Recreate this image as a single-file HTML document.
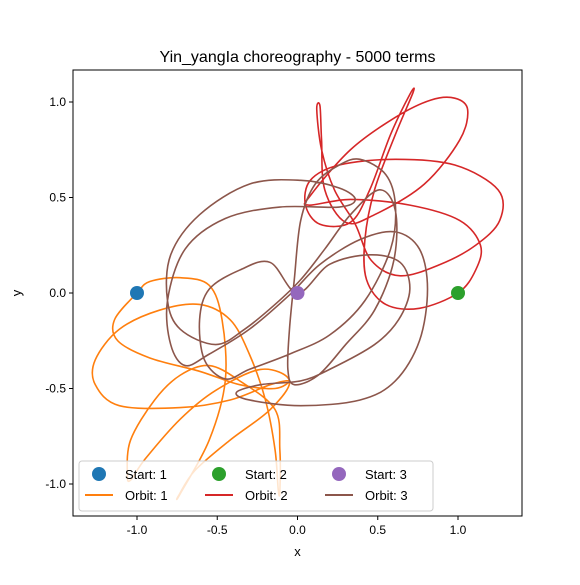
<!DOCTYPE html>
<html><head><meta charset="utf-8"><style>
body{margin:0;background:#fff}
svg text{font-family:"Liberation Sans","DejaVu Sans",sans-serif;fill:#000}
</style></head><body>
<svg id="c" width="580" height="580" xmlns="http://www.w3.org/2000/svg">
<rect width="580" height="580" fill="#fff"/>
<text x="297.5" y="62" font-size="16" text-anchor="middle">Yin_yangIa choreography - 5000 terms</text>
<g id="plot"></g>
<rect x="73" y="70" width="449" height="446" fill="none" stroke="#000" stroke-width="1"/>
<g id="ticks"></g>
<text x="297.5" y="556" font-size="13" text-anchor="middle">x</text>
<text x="21" y="293" font-size="13" text-anchor="middle" transform="rotate(-90 21 293)">y</text>
<g>
<rect x="79" y="461" width="354" height="50" rx="3" fill="#fff" fill-opacity="0.8" stroke="#ccc"/>
<circle cx="99" cy="474" r="7" fill="#1f77b4"/>
<text x="125" y="479" font-size="13">Start: 1</text>
<line x1="85" y1="495" x2="113" y2="495" stroke="#ff7f0e" stroke-width="2"/>
<text x="125" y="500" font-size="13">Orbit: 1</text>
<circle cx="219" cy="474" r="7" fill="#2ca02c"/>
<text x="245" y="479" font-size="13">Start: 2</text>
<line x1="205" y1="495" x2="233" y2="495" stroke="#d62728" stroke-width="2"/>
<text x="245" y="500" font-size="13">Orbit: 2</text>
<circle cx="339" cy="474" r="7" fill="#9467bd"/>
<text x="365" y="479" font-size="13">Start: 3</text>
<line x1="325" y1="495" x2="353" y2="495" stroke="#8c564b" stroke-width="2"/>
<text x="365" y="500" font-size="13">Orbit: 3</text>
</g>
</svg>
<script>
const xTicks=[-1.0,-0.5,0.0,0.5,1.0];
const yTicks=[-1.0,-0.5,0.0,0.5,1.0];
const starts=[[-1,0],[1,0],[0,0]];
const orbit1X=[-1.00,-1.14,-1.12,-0.92,-0.61,-0.36,-0.14,-0.05,-0.17,-0.42,-0.73,-1.11,-1.26,-1.26,-1.11,-0.86,-0.61,-0.42,-0.30,-0.20,-0.14,-0.12,-0.11,-0.11,-0.14,-0.36,-0.55,-0.73,-0.89,-1.04,-1.06,-1.04,-0.95,-0.73,-0.51,-0.23,-0.05,-0.17,-0.42,-0.64,-0.74,-0.73,-0.55,-0.45,-0.47,-0.55,-0.73,-0.92];
const orbit1Y=[0.00,-0.14,-0.25,-0.34,-0.41,-0.48,-0.50,-0.46,-0.48,-0.56,-0.60,-0.59,-0.48,-0.35,-0.19,-0.09,-0.06,-0.14,-0.32,-0.56,-0.82,-1.03,-1.04,-0.82,-0.61,-0.46,-0.38,-0.43,-0.56,-0.77,-0.95,-0.98,-0.87,-0.66,-0.51,-0.40,-0.46,-0.61,-0.77,-0.93,-1.06,-1.05,-0.77,-0.46,-0.14,0.04,0.08,0.06];
const orbit2X=[1.00,0.76,0.55,0.43,0.42,0.48,0.61,0.72,0.70,0.58,0.45,0.33,0.14,0.05,0.08,0.26,0.61,0.98,1.25,1.26,1.11,0.89,0.64,0.46,0.36,0.23,0.15,0.12,0.14,0.15,0.17,0.30,0.48,0.79,1.01,1.06,0.98,0.83,0.61,0.33,0.08,0.07,0.33,0.70,1.01,1.14,1.11];
const orbit2Y=[0.00,-0.08,-0.06,0.07,0.28,0.54,0.83,1.05,1.04,0.83,0.54,0.37,0.36,0.46,0.59,0.67,0.70,0.67,0.54,0.38,0.25,0.15,0.09,0.17,0.36,0.54,0.75,0.96,0.98,0.80,0.54,0.37,0.41,0.57,0.80,0.96,1.02,1.01,0.92,0.75,0.51,0.46,0.49,0.46,0.38,0.25,0.12];
const orbit3X=[0,0.20,0.45,0.64,0.70,0.63,0.48,0.20,0.02,-0.23,-0.38,-0.30,0.02,0.39,0.61,0.76,0.81,0.76,0.61,0.39,0.14,-0.05,-0.30,-0.55,-0.70,-0.79,-0.81,-0.70,-0.45,-0.11,0.26,0.36,0.26,0.02,-0.30,-0.61,-0.79,-0.81,-0.73,-0.51,-0.33,-0.14,0.02,0.17,0.33,0.51,0.61,0.60,0.48,0.30,0.13,-0.02,-0.06,-0.05,-0.02,0.02,0.11,0.26,0.39,0.55,0.61,0.58,0.42,0.20,-0.05,-0.30,-0.45,-0.58,-0.61,-0.55,-0.36,-0.17];
const orbit3Y=[0,0.15,0.20,0.16,0.02,-0.14,-0.27,-0.40,-0.46,-0.48,-0.52,-0.56,-0.59,-0.56,-0.46,-0.25,0.02,0.23,0.32,0.28,0.15,-0.01,-0.19,-0.32,-0.38,-0.27,-0.04,0.23,0.39,0.45,0.45,0.49,0.55,0.59,0.57,0.41,0.20,-0.04,-0.19,-0.27,-0.19,-0.06,0.07,0.23,0.41,0.54,0.43,0.17,-0.09,-0.27,-0.43,-0.48,-0.40,-0.19,0.07,0.38,0.57,0.67,0.70,0.62,0.46,0.23,-0.04,-0.22,-0.32,-0.40,-0.45,-0.35,-0.14,0.02,0.12,0.16];

const X0=73,X1=522,Y0=70,Y1=516,XMIN=-1.3987,XMAX=1.3987,YMIN=-1.1675,YMAX=1.1675;
const sx=v=>X0+(v-XMIN)/(XMAX-XMIN)*(X1-X0);
const sy=v=>Y1-(v-YMIN)/(YMAX-YMIN)*(Y1-Y0);
const NS='http://www.w3.org/2000/svg';
const plot=document.getElementById('plot'), tg=document.getElementById('ticks');
function mk(t,a,p){const e=document.createElementNS(NS,t);for(const k in a)e.setAttribute(k,a[k]);p.appendChild(e);return e;}
xTicks.forEach(v=>{const x=sx(v);
 const l=mk('line',{x1:x,x2:x,y1:Y1,y2:Y1+4,stroke:'#000'},tg);
 
 
 const t=mk('text',{x:x,y:Y1+18,'font-size':12,'text-anchor':'middle'},tg);t.textContent=v.toFixed(1);
 
 });
yTicks.forEach(v=>{const y=sy(v);
 const l=mk('line',{x1:X0-4,x2:X0,y1:y,y2:y,stroke:'#000'},tg);
 
 
 const t=mk('text',{x:X0-7,y:y+4,'font-size':12,'text-anchor':'end'},tg);t.textContent=v.toFixed(1);
 
 });
function path(xs,ys){const P=xs.map((x,i)=>[sx(x),sy(ys[i])]);const n=P.length;let d='M'+P[0][0]+','+P[0][1];
 for(let i=0;i<n;i++){const p0=P[(i-1+n)%n],p1=P[i],p2=P[(i+1)%n],p3=P[(i+2)%n];
  d+=` C${p1[0]+(p2[0]-p0[0])/6},${p1[1]+(p2[1]-p0[1])/6} ${p2[0]-(p3[0]-p1[0])/6},${p2[1]-(p3[1]-p1[1])/6} ${p2[0]},${p2[1]}`;}
 return d;}
const orbits=[[orbit1X,orbit1Y,'#ff7f0e'],[orbit2X,orbit2Y,'#d62728'],[orbit3X,orbit3Y,'#8c564b']];
const sc=['#1f77b4','#2ca02c','#9467bd'];
orbits.forEach((o,i)=>{const p=mk('path',{d:path(o[0],o[1]),fill:'none',stroke:o[2],'stroke-width':1.6},plot);
 
 });
starts.forEach((s,i)=>{const c=mk('circle',{cx:sx(s[0]),cy:sy(s[1]),r:7,fill:sc[i]},plot);
 
 });
</script>
</body></html>
